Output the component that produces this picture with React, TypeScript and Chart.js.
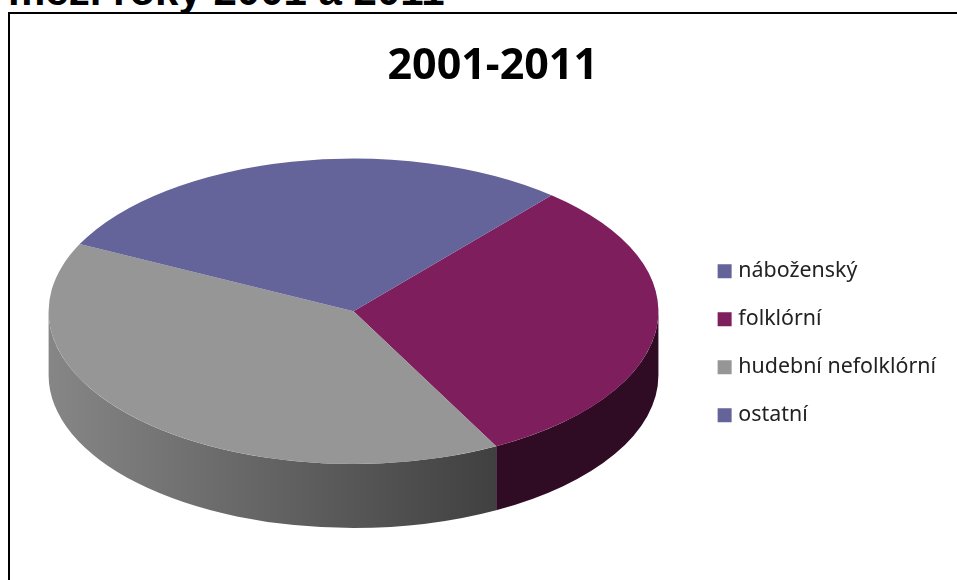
import React, { useEffect, useRef } from "react";
import { Chart, registerables } from "chart.js";

Chart.register(...registerables);

const categories = ["náboženský", "folklórní", "hudební nefolklórní", "ostatní"];
const shares = [0, 31, 40, 29];
const topColors = ["#64639a", "#7f1e5d", "#969696", "#64639a"];
const wallStops = [
  ["#64639a", "#64639a"],
  ["#2f0b24", "#2f0b24"],
  ["#868686", "#404040"],
  ["#3c3b5c", "#3c3b5c"],
];
const chartTitle = "2001-2011";
const pageHeading = "mezi roky 2001 a 2011";

const STRETCH_X = 305.5 / 153;
const WALL_DEPTH = 64;
const TITLE_SHIFT = 13.75;
const LEGEND_SHIFT_X = -2;
const LEGEND_SHIFT_Y = 32;

const pie3d = {
  id: "pie3d",
  afterLayout(chart: any) {
    chart.titleBlock.left += TITLE_SHIFT * 2;
    chart.legend.left += LEGEND_SHIFT_X;
    chart.legend.right += LEGEND_SHIFT_X;
    chart.legend.top += LEGEND_SHIFT_Y;
    chart.legend.bottom += LEGEND_SHIFT_Y;
  },
  beforeDatasetsDraw(chart: any) {
    const ctx = chart.ctx;
    const arcs = chart.getDatasetMeta(0).data;
    const cx = arcs[0].x;
    const cy = arcs[0].y;
    const ry = arcs[0].outerRadius;
    const rx = ry * STRETCH_X;
    arcs.forEach((arc: any, i: number) => {
      for (const turn of [-1, 0, 1]) {
        const s = Math.max(arc.startAngle + turn * 2 * Math.PI, 0);
        const e = Math.min(arc.endAngle + turn * 2 * Math.PI, Math.PI);
        if (e <= s) continue;
        const x0 = cx + rx * Math.cos(s);
        const x1 = cx + rx * Math.cos(e);
        const grad = ctx.createLinearGradient(Math.min(x0, x1), 0, Math.max(x0, x1), 0);
        grad.addColorStop(0, wallStops[i][0]);
        grad.addColorStop(1, wallStops[i][1]);
        ctx.beginPath();
        ctx.ellipse(cx, cy, rx, ry, 0, s, e);
        ctx.ellipse(cx, cy + WALL_DEPTH, rx, ry, 0, e, s, true);
        ctx.closePath();
        ctx.fillStyle = grad;
        ctx.fill();
      }
    });
    ctx.save();
    ctx.translate(cx, cy);
    ctx.scale(STRETCH_X, 1);
    ctx.translate(-cx, -cy);
  },
  afterDatasetsDraw(chart: any) {
    chart.ctx.restore();
  },
};

export default function App() {
  const ref = useRef<HTMLCanvasElement>(null);
  useEffect(() => {
    const chart = new Chart(ref.current as HTMLCanvasElement, {
      type: "pie",
      data: {
        labels: categories,
        datasets: [
          {
            data: shares,
            backgroundColor: topColors,
            borderWidth: 0,
            clip: false,
          } as any,
        ],
      },
      options: {
        animation: false,
        responsive: false,
        rotation: 40.5,
        layout: { padding: { left: 10, right: 9, top: 0, bottom: 116 } },
        plugins: {
          tooltip: { enabled: false },
          title: {
            display: true,
            text: chartTitle,
            color: "#000000",
            font: { family: "'Noto Sans'", size: 43, weight: "bold" },
            padding: { top: 41, bottom: 66 },
          },
          legend: {
            position: "right",
            fullSize: false,
            labels: {
              boxWidth: 6,
              boxHeight: 6,
              padding: 26.6,
              color: "#222222",
              font: { family: "'Noto Sans'", size: 21.4 },
              generateLabels: (c: any) =>
                (Chart as any).overrides.doughnut.plugins.legend.labels
                  .generateLabels(c)
                  .map((item: any) => ({
                    ...item,
                    lineWidth: 8,
                    strokeStyle: item.fillStyle,
                    hidden: false,
                  })),
            },
          },
        },
      } as any,
      plugins: [pie3d],
    });
    return () => chart.destroy();
  }, []);

  return (
    <div style={{ position: "fixed", left: 0, top: 0, width: 957, height: 580, overflow: "hidden", background: "#fff" }}>
      <div
        style={{
          position: "absolute",
          left: 8,
          top: -33,
          font: "bold 42px/48px 'Liberation Sans'",
          color: "#000",
          whiteSpace: "nowrap",
        }}
      >
        {pageHeading}
      </div>
      <div
        style={{
          position: "absolute",
          left: 8,
          top: 12,
          width: 960,
          height: 580,
          borderLeft: "2.5px solid #000",
          borderTop: "2.5px solid #000",
        }}
      />
      <canvas ref={ref} width={957} height={580} style={{ position: "absolute", left: 0, top: 0 }} />
    </div>
  );
}
